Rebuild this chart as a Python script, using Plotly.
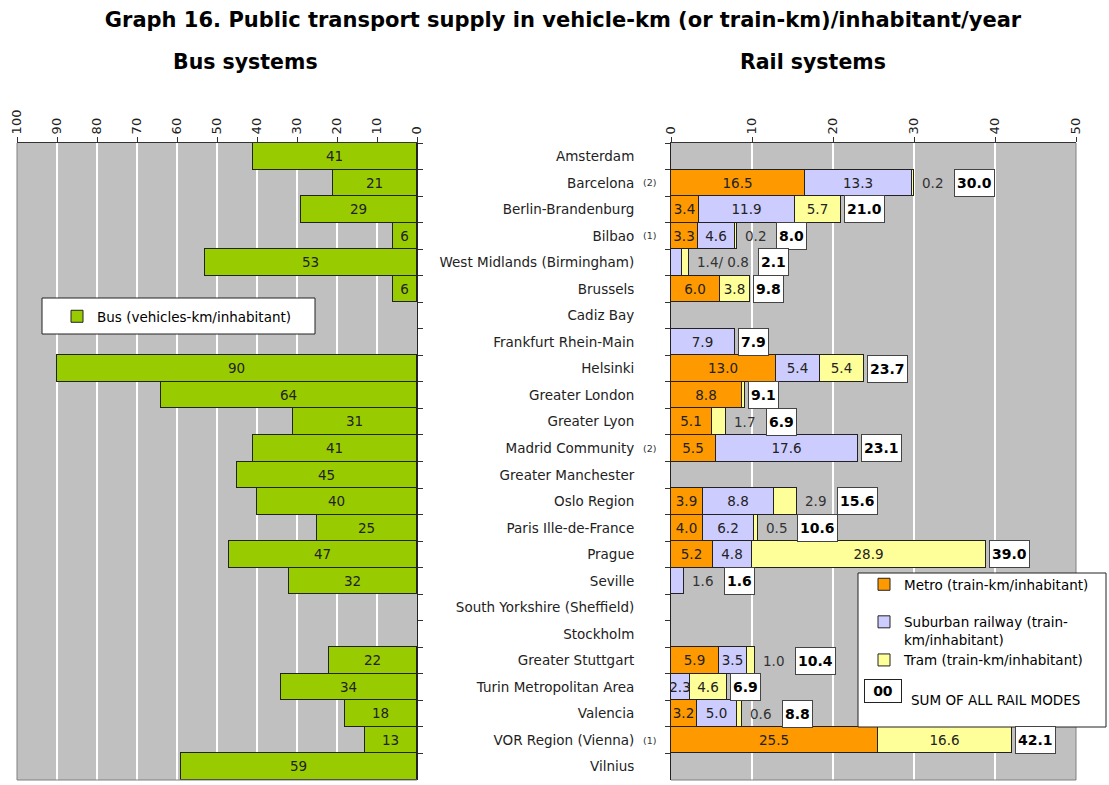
import plotly.graph_objects as go

# ---------------- data ----------------
cities = ["Amsterdam", "Barcelona", "Berlin-Brandenburg", "Bilbao",
          "West Midlands (Birmingham)", "Brussels", "Cadiz Bay",
          "Frankfurt Rhein-Main", "Helsinki", "Greater London", "Greater Lyon",
          "Madrid Community", "Greater Manchester", "Oslo Region",
          "Paris Ille-de-France", "Prague", "Seville",
          "South Yorkshire (Sheffield)", "Stockholm", "Greater Stuttgart",
          "Turin Metropolitan Area", "Valencia", "VOR Region (Vienna)", "Vilnius"]

footnotes = ["", "(2)", "", "(1)", "", "", "", "", "", "", "", "(2)", "", "",
             "", "", "", "", "", "", "", "", "(1)", ""]

bus = [41, 21, 29, 6, 53, 6, None, None, 90, 64, 31, 41, 45, 40, 25, 47, 32,
       None, None, 22, 34, 18, 13, 59]

metro = [None, 16.5, 3.4, 3.3, None, 6.0, None, None, 13.0, 8.8, 5.1, 5.5,
         None, 3.9, 4.0, 5.2, None, None, None, 5.9, None, 3.2, 25.5, None]
suburban = [None, 13.3, 11.9, 4.6, 1.4, None, None, 7.9, 5.4, None, None, 17.6,
            None, 8.8, 6.2, 4.8, 1.6, None, None, 3.5, 2.3, 5.0, None, None]
tram = [None, 0.2, 5.7, 0.2, 0.8, 3.8, None, None, 5.4, 0.3, 1.7, None,
        None, 2.9, 0.5, 28.9, None, None, None, 1.0, 4.6, 0.6, 16.6, None]
rail_sum = [None, 30.0, 21.0, 8.0, 2.1, 9.8, None, 7.9, 23.7, 9.1, 6.9, 23.1,
            None, 15.6, 10.6, 39.0, 1.6, None, None, 10.4, 6.9, 8.8, 42.1, None]
# labels written beside the bar instead of inside it
rail_outside = ["", "0.2", "", "0.2", "1.4/ 0.8", "", "", "", "", "", "1.7", "",
                "", "2.9", "0.5", "", "1.6", "", "", "1.0", "", "0.6", "", ""]

bus_ticks = list(range(0, 101, 10))
rail_ticks = list(range(0, 51, 10))

# ---------------- styles ----------------
W, H = 1109, 785
FONT = "DejaVu Sans"
C_BUS, C_METRO, C_SUB, C_TRAM = "#99CC00", "#FF9900", "#CCCCFF", "#FFFF99"
EDGE = "#222222"


def px(x):
    return x / W


def py(y):
    return 1 - y / H


Y_TOP, Y_BOT = 143, 780
L_X0, L_X1 = 17, 417
R_X0, R_X1 = 671, 1076


def seg_text(vals, mode):
    out = []
    for c, v in zip(cities, vals):
        if v is None or v < 2.0 or (mode == "tram" and c == "Oslo Region"):
            out.append("")
        else:
            out.append(f"{v:.1f}")
    return out


bar_font = dict(family=FONT, size=13.5, color="#222")

fig = go.Figure()

fig.add_trace(go.Bar(
    y=cities, x=bus, orientation="h", xaxis="x", yaxis="y",
    name="Bus (vehicles-km/inhabitant)", legend="legend",
    marker=dict(color=C_BUS, line=dict(color=EDGE, width=1)),
    text=["" if v is None else str(v) for v in bus],
    textposition="inside", insidetextanchor="middle", textangle=0,
    textfont=bar_font, hoverinfo="x+y",
))

for vals, name, col, mode, grp in [
        (metro, "Metro (train-km/inhabitant)", C_METRO, "metro", "g1"),
        (suburban, "Suburban railway (train-<br>km/inhabitant)", C_SUB, "sub", "g2"),
        (tram, "Tram (train-km/inhabitant)", C_TRAM, "tram", "g2")]:
    fig.add_trace(go.Bar(
        y=cities, x=vals, orientation="h", xaxis="x2", yaxis="y2",
        name=name, legend="legend2", legendgroup=grp,
        marker=dict(color=col, line=dict(color=EDGE, width=1)),
        text=seg_text(vals, mode),
        textposition="inside", insidetextanchor="middle", textangle=0,
        textfont=bar_font, hoverinfo="x+y",
    ))

annotations = []
shapes = []

# titles
annotations.append(dict(text="<b>Bus systems</b>", x=px(245.5), y=py(62),
                        xref="paper", yref="paper", xanchor="center", yanchor="middle",
                        showarrow=False, font=dict(family=FONT, size=20.5, color="#000")))
annotations.append(dict(text="<b>Rail systems</b>", x=px(813), y=py(62),
                        xref="paper", yref="paper", xanchor="center", yanchor="middle",
                        showarrow=False, font=dict(family=FONT, size=20.5, color="#000")))

# footnote marks
for c, f in zip(cities, footnotes):
    if f:
        annotations.append(dict(text=f, x=px(641), y=c, xref="paper", yref="y2",
                                xanchor="left", yanchor="middle", showarrow=False,
                                font=dict(family=FONT, size=9.5, color="#333")))

CW = {".": 4.1, "/": 4.4, " ": 4.1}


def text_w(s):
    return sum(CW.get(ch, 8.3) for ch in s)


# outside labels and sum boxes
for c, m, s, t, tot, lab in zip(cities, metro, suburban, tram, rail_sum, rail_outside):
    if tot is None:
        continue
    end = sum(v for v in (m, s, t) if v is not None)
    shift = 3
    if lab:
        annotations.append(dict(text=lab, x=end, y=c, xref="x2", yref="y2",
                                xanchor="left", yanchor="middle", xshift=6, showarrow=False,
                                font=dict(family=FONT, size=13.5, color="#333")))
        shift = 6 + text_w(lab) + 13
    annotations.append(dict(text=f"<b>{tot:.1f}</b>", x=end, y=c, xref="x2", yref="y2",
                            xanchor="left", yanchor="middle", xshift=shift, showarrow=False,
                            bgcolor="white", bordercolor="#444", borderwidth=1,
                            borderpad=2, height=22,
                            font=dict(family=FONT, size=14, color="#000")))

# plot-area borders (grey lower/outer edges)
for x0, x1 in [(L_X0, L_X1), (R_X0, R_X1)]:
    shapes.append(dict(type="line", xref="paper", yref="paper",
                       x0=px(x0), x1=px(x1), y0=py(Y_BOT), y1=py(Y_BOT),
                       line=dict(color="#808080", width=1), layer="above"))
shapes.append(dict(type="line", xref="paper", yref="paper",
                   x0=px(L_X0), x1=px(L_X0), y0=py(Y_BOT), y1=py(Y_TOP),
                   line=dict(color="#808080", width=1), layer="above"))
shapes.append(dict(type="line", xref="paper", yref="paper",
                   x0=px(R_X1), x1=px(R_X1), y0=py(Y_BOT), y1=py(Y_TOP),
                   line=dict(color="#808080", width=1), layer="above"))

# legend boxes
shapes.append(dict(type="rect", xref="paper", yref="paper",
                   x0=px(42), x1=px(315), y0=py(334), y1=py(298),
                   fillcolor="white", line=dict(color="#222", width=1), layer="above"))
shapes.append(dict(type="rect", xref="paper", yref="paper",
                   x0=px(858), x1=px(1106), y0=py(727), y1=py(573),
                   fillcolor="white", line=dict(color="#222", width=1), layer="above"))

# "sum" legend entry
annotations.append(dict(text="<b>00</b>", x=px(883), y=py(691), xref="paper", yref="paper",
                        xanchor="center", yanchor="middle",
                        showarrow=False, bgcolor="white", bordercolor="#222",
                        borderwidth=1, borderpad=3, width=30, height=16,
                        font=dict(family=FONT, size=14, color="#000")))
annotations.append(dict(text="SUM OF ALL RAIL MODES", x=px(909), y=py(700),
                        xref="paper", yref="paper", xanchor="left", yanchor="middle",
                        showarrow=False, font=dict(family=FONT, size=13.5, color="#000")))

axis_font = dict(family=FONT, size=13, color="#222")
cat_font = dict(family=FONT, size=13.5, color="#222")
leg_font = dict(family=FONT, size=13.5, color="#000")

fig.update_layout(
    width=W, height=H,
    margin=dict(l=0, r=0, t=0, b=0),
    paper_bgcolor="white", plot_bgcolor="#C0C0C0",
    barmode="stack", bargap=0,
    font=dict(family=FONT, size=13, color="#222"),
    title=dict(text="<b>Graph 16. Public transport supply in vehicle-km (or train-km)/inhabitant/year</b>",
               x=px(563), xanchor="center", y=py(20), yanchor="middle",
               font=dict(family=FONT, size=21, color="#000")),
    uniformtext=dict(minsize=13.5, mode="show"),
    xaxis=dict(domain=[px(L_X0), px(L_X1)], anchor="y", side="top",
               range=[100, 0], tickvals=bus_ticks, tickangle=-90,
               ticks="outside", ticklen=5, tickcolor="#333",
               showgrid=True, gridcolor="white", gridwidth=1.5,
               showline=True, linecolor="#333", linewidth=1,
               zeroline=False, tickfont=axis_font, automargin=False),
    yaxis=dict(domain=[py(Y_BOT), py(Y_TOP)], anchor="x", side="right",
               type="category", categoryorder="array", categoryarray=cities,
               autorange="reversed", tickson="boundaries", ticks="outside",
               ticklen=5, tickcolor="#333", showticklabels=False,
               showline=True, linecolor="#222", linewidth=1, showgrid=False,
               automargin=False),
    xaxis2=dict(domain=[px(R_X0), px(R_X1)], anchor="y2", side="top",
                range=[0, 50], tickvals=rail_ticks, tickangle=-90,
                ticks="outside", ticklen=5, tickcolor="#333",
                showgrid=True, gridcolor="white", gridwidth=1.5,
                showline=True, linecolor="#333", linewidth=1,
                zeroline=False, tickfont=axis_font, automargin=False),
    yaxis2=dict(domain=[py(Y_BOT), py(Y_TOP)], anchor="x2", side="left",
                type="category", categoryorder="array", categoryarray=cities,
                autorange="reversed", tickson="boundaries", ticks="outside",
                ticklen=5, tickcolor="#333", ticklabelstandoff=33,
                showline=True, linecolor="#222", linewidth=1, showgrid=False,
                tickfont=cat_font, automargin=False),
    legend=dict(x=px(57), y=py(301), xanchor="left", yanchor="top",
                bgcolor="rgba(0,0,0,0)", borderwidth=0, font=leg_font),
    legend2=dict(x=px(864), y=py(569), xanchor="left", yanchor="top",
                 bgcolor="rgba(0,0,0,0)", borderwidth=0, valign="top",
                 traceorder="grouped", tracegroupgap=17, font=leg_font),
    annotations=annotations, shapes=shapes,
    showlegend=True,
)

fig.write_html("out.html", config={"displayModeBar": False},
               post_script="document.body.style.margin='0';")
